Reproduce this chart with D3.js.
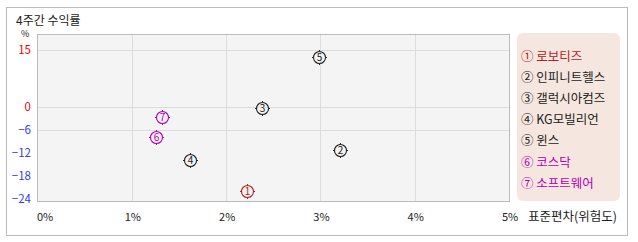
<!DOCTYPE html>
<html>
<head>
<meta charset="utf-8">
<script src="https://cdn.jsdelivr.net/npm/d3@7"></script>
<style>
  body { margin: 0; background: #fff; }
  text { font-family: "Noto Sans CJK KR", "DejaVu Sans", sans-serif; }
</style>
</head>
<body>
<svg id="chart" width="638" height="242"></svg>
<script>
// 데이터
var names = ["로보티즈", "인피니트헬스", "갤럭시아컴즈", "KG모빌리언", "윈스", "코스닥", "소프트웨어"];
var marks = ["①", "②", "③", "④", "⑤", "⑥", "⑦"];
var risk = [2.22, 3.21, 2.38, 1.62, 2.98, 1.26, 1.32];      // 표준편차 (%)
var returns = [-22.1, -11.2, -0.1, -13.8, 13.2, -7.9, -2.6]; // 4주간 수익률 (%)
var colors = ["#b52020", "#222", "#222", "#222", "#222", "#b000b0", "#b000b0"];
var xTicks = [0, 1, 2, 3, 4, 5];
var yTicks = [15, 0, -6, -12, -18, -24];
var yGrid = [15, 0, -6];

var svg = d3.select("#chart");

// 바깥 테두리
svg.append("rect")
    .attr("x", 6.5).attr("y", 7.5)
    .attr("width", 621).attr("height", 228)
    .attr("fill", "#fff").attr("stroke", "#bbb");

svg.append("text")
    .attr("x", 16).attr("y", 25)
    .attr("font-size", 12).attr("fill", "#222")
    .text("4주간 수익률");

let plot = {left: 37, top: 34, right: 509, bottom: 201};

let scaleX = d3.scaleLinear().domain([0, 5]).range([37.6, 509]);
let scaleY = d3.scaleLinear().domain([-24, 15]).range([198.7, 50.3]);

svg.append("rect")
    .attr("x", plot.left + 0.5).attr("y", plot.top + 0.5)
    .attr("width", plot.right - plot.left).attr("height", plot.bottom - plot.top)
    .attr("fill", "#f4f4f4").attr("stroke", "#bbb");

// 격자
svg.append("g").selectAll("line")
    .data(xTicks.slice(1, -1))
    .enter().append("line")
    .attr("x1", d => Math.round(scaleX(d)) + 0.5).attr("x2", d => Math.round(scaleX(d)) + 0.5)
    .attr("y1", plot.top + 1).attr("y2", plot.bottom)
    .attr("stroke", "#dcdcdc");

svg.append("g").selectAll("line")
    .data(yGrid)
    .enter().append("line")
    .attr("x1", plot.left + 1).attr("x2", plot.right)
    .attr("y1", d => Math.round(scaleY(d)) + 0.5).attr("y2", d => Math.round(scaleY(d)) + 0.5)
    .attr("stroke", "#dcdcdc");

// 축 라벨
svg.append("g").selectAll("text")
    .data(yTicks)
    .enter().append("text")
    .attr("x", 31).attr("y", d => scaleY(d) + 4)
    .attr("text-anchor", "end")
    .attr("font-size", 11.5)
    .attr("fill", d => d >= 0 ? "#f00000" : "#3a3af0")
    .text(d => d < 0 ? "\u2212" + (-d) : d);

svg.append("text")
    .attr("x", 21).attr("y", 37)
    .attr("font-size", 9).attr("fill", "#222")
    .text("%");

svg.append("g").selectAll("text")
    .data(xTicks)
    .enter().append("text")
    .attr("x", d => d == 0 ? plot.left : scaleX(d) + 1)
    .attr("y", 221)
    .attr("text-anchor", d => d == 0 ? "start" : "middle")
    .attr("font-size", 11).attr("fill", "#222")
    .text(d => d + "%");

svg.append("text")
    .attr("x", 528).attr("y", 221)
    .attr("font-size", 12.5).attr("fill", "#222")
    .text("표준편차(위험도)");

// 점 (원 + 번호 + 작은 눈금)
let pts = svg.append("g").selectAll("g")
    .data(names.map((n, i) => ({x: risk[i], y: returns[i], num: i + 1, color: colors[i]})))
    .enter().append("g")
    .attr("transform", d => `translate(${Math.round(scaleX(d.x)) + 0.5}, ${Math.round(scaleY(d.y)) + 0.5})`);

pts.append("circle")
    .attr("r", 6)
    .attr("fill", "none")
    .attr("stroke", d => d.color)
    .attr("stroke-width", 1.1);

[[0, -6, 0, -7.5], [0, 6, 0, 7.5], [-6, 0, -7.5, 0], [6, 0, 7.5, 0]].forEach(t => {
    pts.append("line")
        .attr("x1", t[0]).attr("y1", t[1]).attr("x2", t[2]).attr("y2", t[3])
        .attr("stroke", d => d.color);
});

pts.append("text")
    .attr("text-anchor", "middle")
    .attr("y", 3.5)
    .attr("font-family", "DejaVu Sans")
    .attr("font-size", 10)
    .attr("fill", d => d.color)
    .text(d => d.num);

// 범례
svg.append("rect")
    .attr("x", 517).attr("y", 33)
    .attr("width", 103).attr("height", 168)
    .attr("rx", 6)
    .attr("fill", "#f5e7e0");

svg.append("g").selectAll("text")
    .data(names)
    .enter().append("text")
    .attr("x", 521)
    .attr("y", (d, i) => 55 + i * 21.2)
    .attr("dominant-baseline", "central")
    .attr("font-size", 12.5)
    .attr("fill", (d, i) => colors[i])
    .text((d, i) => marks[i] + " " + d);
</script>
</body>
</html>
